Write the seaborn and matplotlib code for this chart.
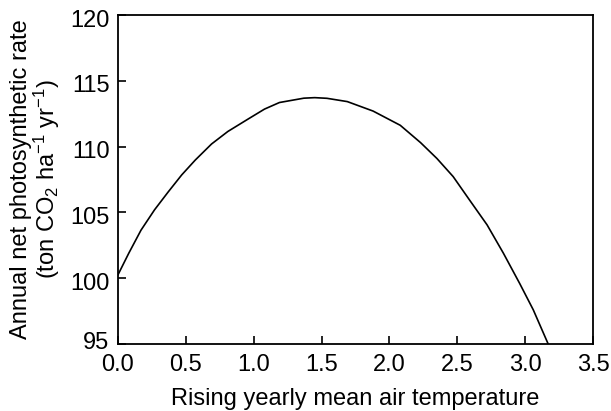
import pandas as pd
import matplotlib
matplotlib.use("Agg")
import matplotlib.pyplot as plt
import matplotlib.transforms as mtransforms
import seaborn as sns

# values
temp_rise = [0.0, 0.08, 0.17, 0.27, 0.37, 0.47, 0.57, 0.69, 0.81, 0.96, 1.08,
             1.19, 1.37, 1.45, 1.54, 1.69, 1.88, 2.08, 2.23, 2.35, 2.47, 2.59,
             2.72, 2.84, 2.96, 3.06, 3.17]
photo_rate = [100.25, 101.9, 103.65, 105.2, 106.55, 107.85, 108.98, 110.2, 111.15,
              112.1, 112.85, 113.35, 113.68, 113.72, 113.67, 113.42, 112.7, 111.62,
              110.3, 109.1, 107.72, 105.95, 104.05, 101.9, 99.6, 97.6, 95.0]
x_ticks = [0.0, 0.5, 1.0, 1.5, 2.0, 2.5, 3.0, 3.5]
y_ticks = [95, 100, 105, 110, 115, 120]

df = pd.DataFrame({"Temperature": temp_rise, "Rate": photo_rate})

sns.set_style("ticks")
plt.rcParams["font.family"] = ["Liberation Sans", "DejaVu Sans"]
plt.rcParams["mathtext.fontset"] = "custom"
plt.rcParams["mathtext.rm"] = "Liberation Sans"
plt.rcParams["mathtext.it"] = "Liberation Sans"
plt.rcParams["mathtext.default"] = "regular"
for key in ["text.color", "axes.labelcolor", "xtick.color", "ytick.color"]:
    plt.rcParams[key] = "black"

fig = plt.figure(figsize=(6.11, 4.11), dpi=100)
ax = fig.add_axes([0.193, 0.163, 0.7775, 0.8005])

sns.lineplot(x="Temperature", y="Rate", data=df, color="black", linewidth=1.2, ax=ax)

ax.set_xlim(0, 3.5)
ax.set_ylim(95, 120)
ax.set_xticks(x_ticks)
ax.set_xticklabels([f"{t:.1f}" for t in x_ticks])
ax.set_yticks(y_ticks)
ax.tick_params(direction="in", length=6, width=1.2, labelsize=17, pad=7,
               top=False, right=False)
ax.tick_params(axis="y", pad=6)
for s in ax.spines.values():
    s.set_linewidth(1.3)
    s.set_color("black")

# the lowest y label sits a little above its tick in the original
for lab in ax.get_yticklabels():
    dy = 4 if lab.get_text() == "95" else -3
    lab.set_transform(lab.get_transform() +
                      mtransforms.ScaledTranslation(0, dy / 100, fig.dpi_scale_trans))

ax.set_xlabel("Rising yearly mean air temperature", fontsize=17, labelpad=9)
ax.set_ylabel("Annual net photosynthetic rate\n(ton CO$_2$ ha$^{-1}$ yr$^{-1}$)",
              fontsize=17, labelpad=6, linespacing=1.0)

fig.savefig("out.png", dpi=100)
